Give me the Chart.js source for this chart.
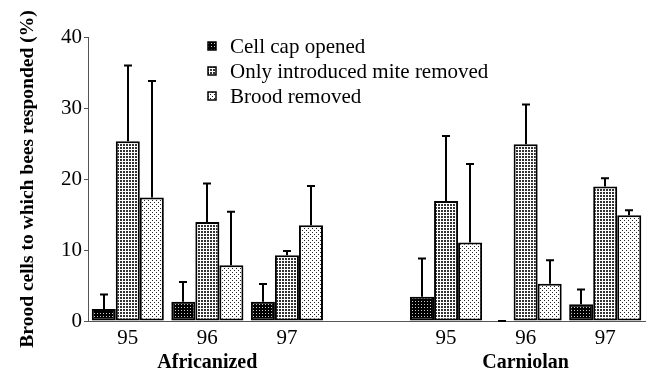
<!DOCTYPE html>
<html>
<head>
<meta charset="utf-8">
<script src="https://cdn.jsdelivr.net/npm/chart.js@4"></script>
<style>
  html, body { margin: 0; padding: 0; background: #fff; }
  #wrap { width: 647px; height: 375px; }
</style>
</head>
<body>
<div id="wrap"><canvas id="myChart" width="647" height="375"></canvas></div>
<script>
  const categories = ['95', '96', '97', '', '95', '96', '97'];
  const groups = ['', 'Africanized', '', '', '', 'Carniolan', ''];
  const seriesNames = ['Cell cap opened', 'Only introduced mite removed', 'Brood removed'];

  const cellCapOpened = [1.7, 2.7, 2.7, null, 3.4, 0, 2.35];
  const cellCapErr = [2.05, 2.8, 2.5, null, 5.4, 0, 2.1];
  const miteRemoved = [25.3, 13.95, 9.25, null, 16.9, 24.9, 18.95];
  const miteErr = [10.7, 5.4, 0.6, null, 9.15, 5.6, 1.15];
  const broodRemoved = [17.4, 7.85, 13.5, null, 11.05, 5.25, 14.9];
  const broodErr = [16.4, 7.55, 5.5, null, 11.05, 3.3, 0.7];

  const yTicks = [0, 10, 20, 30, 40];

  const serif = "'Liberation Serif', 'Times New Roman', serif";

  // small tiled fills like the old stipple patterns
  function makePattern(size, bg, fg, dots) {
    const c = document.createElement('canvas');
    c.width = size; c.height = size;
    const g = c.getContext('2d');
    g.fillStyle = bg;
    g.fillRect(0, 0, size, size);
    g.fillStyle = fg;
    dots.forEach(function(d){ g.fillRect(d[0], d[1], 1, 1); });
    return g.createPattern(c, 'repeat');
  }

  const darkFill = makePattern(3, '#000', '#ccc', [[1, 1]]);
  const midFill = makePattern(3, '#fff', '#333', [[0, 0], [1, 0], [0, 1], [1, 1]]);
  const lightFill = makePattern(4, '#fff', '#222', [[0, 0], [2, 2]]);

  const fills = [darkFill, midFill, lightFill];
  const errors = [cellCapErr, miteErr, broodErr];

  const errorBars = {
    id: 'errorBars',
    afterDatasetsDraw(chart) {
      const ctx = chart.ctx;
      const y = chart.scales.y;
      ctx.save();
      ctx.strokeStyle = '#000';
      ctx.lineWidth = 2;
      chart.data.datasets.forEach(function(ds, i){
        const meta = chart.getDatasetMeta(i);
        meta.data.forEach(function(bar, j){
          const v = ds.data[j];
          const e = errors[i][j];
          if (v === null || e === null) return;
          const top = y.getPixelForValue(v + e);
          const x = Math.round(bar.x);
          ctx.beginPath();
          ctx.moveTo(x, bar.y);
          ctx.lineTo(x, top);
          ctx.moveTo(x - 4, top);
          ctx.lineTo(x + 4, top);
          ctx.stroke();
        });
      });
      ctx.restore();
    }
  };

  const patternLegend = {
    id: 'patternLegend',
    afterDraw(chart) {
      const ctx = chart.ctx;
      ctx.save();
      seriesNames.forEach(function(name, i){
        const cy = 46 + i * 25;
        ctx.fillStyle = fills[i];
        ctx.fillRect(208, cy - 4, 8, 8);
        ctx.strokeStyle = '#000';
        ctx.lineWidth = 1.5;
        ctx.strokeRect(208, cy - 4, 8, 8);
        ctx.fillStyle = '#000';
        ctx.font = '21px ' + serif;
        ctx.textBaseline = 'middle';
        ctx.fillText(name, 230, cy + 1);
      });
      ctx.restore();
    }
  };

  const data = {
    labels: categories,
    datasets: [
      { label: seriesNames[0], data: cellCapOpened, backgroundColor: darkFill },
      { label: seriesNames[1], data: miteRemoved, backgroundColor: midFill },
      { label: seriesNames[2], data: broodRemoved, backgroundColor: lightFill }
    ].map(function(ds){
      ds.xAxisID = 'x';
      ds.borderColor = '#000';
      ds.borderWidth = function(c){ return c.raw === 0 ? 0 : 2; };
      ds.borderSkipped = false;
      ds.categoryPercentage = 0.906;
      ds.barPercentage = 1;
      return ds;
    })
  };

  const config = {
    type: 'bar',
    data: data,
    options: {
      responsive: false,
      animation: false,
      layout: { padding: { left: 16, right: 2, top: 37, bottom: 0 } },
      plugins: {
        legend: { display: false },
        tooltip: { enabled: false }
      },
      scales: {
        x: {
          type: 'category',
          position: 'bottom',
          grid: { display: false, drawTicks: false, tickLength: 0 },
          border: { display: true, color: '#555', width: 1 },
          ticks: {
            color: '#000',
            padding: 5,
            maxRotation: 0,
            autoSkip: false,
            font: { family: serif, size: 21 }
          },
          afterFit: function(s){ s.height = 30; }
        },
        x2: {
          type: 'category',
          position: 'bottom',
          labels: groups,
          grid: { display: false, drawTicks: false, tickLength: 0 },
          border: { display: false },
          ticks: {
            color: '#000',
            padding: 0,
            maxRotation: 0,
            autoSkip: false,
            font: { family: serif, size: 20, weight: 'bold' }
          },
          afterFit: function(s){ s.height = 24; }
        },
        y: {
          min: 0,
          max: 40,
          grid: { display: true, drawOnChartArea: false, drawTicks: true, tickLength: 4, color: '#555' },
          border: { display: true, color: '#555', width: 1 },
          afterBuildTicks: function(s){ s.ticks = yTicks.map(function(v){ return { value: v }; }); },
          ticks: {
            color: '#000',
            padding: 2,
            font: { family: serif, size: 21 }
          },
          title: {
            display: true,
            text: 'Brood cells to which bees responded (%)',
            color: '#000',
            padding: 0,
            font: { family: serif, size: 19.5, weight: 'bold' }
          },
          afterFit: function(s){ s.width = 88 - 16; }
        }
      }
    },
    plugins: [errorBars, patternLegend]
  };

  const myChart = new Chart(
    document.getElementById('myChart'),
    config
  );
</script>
</body>
</html>
